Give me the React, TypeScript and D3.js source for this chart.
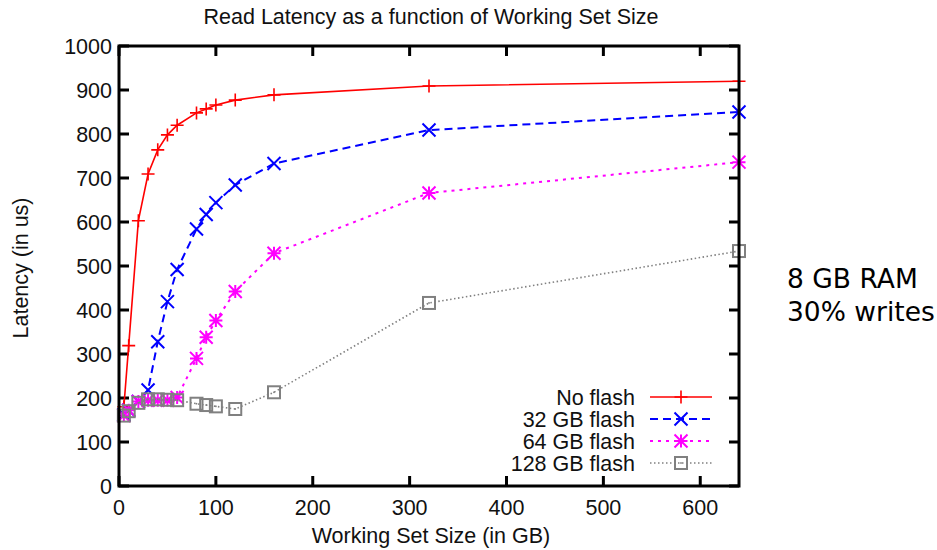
import React from "react";
import * as d3 from "d3";

const xValues = [5, 10, 20, 30, 40, 50, 60, 80, 90, 100, 120, 160, 320, 640];
const noFlash = [180, 319, 603, 709, 764, 798, 820, 848, 857, 866, 877, 889, 909, 920];
const flash32 = [162, 172, 192, 218, 328, 419, 492, 584, 617, 644, 684, 733, 809, 850];
const flash64 = [160, 172, 192, 195, 195, 195, 201, 290, 338, 376, 442, 529, 666, 736];
const flash128 = [160, 170, 189, 197, 197, 196, 195, 187, 184, 181, 175, 213, 416, 534];
const seriesNames = ["No flash", "32 GB flash", "64 GB flash", "128 GB flash"];
const xTicks = [0, 100, 200, 300, 400, 500, 600];
const yTicks = [0, 100, 200, 300, 400, 500, 600, 700, 800, 900, 1000];

const W = 937, H = 550;
const left = 119, right = 739, top = 46, bottom = 486;
const font = "'Liberation Sans', Arial, sans-serif";
const fs = 21.5;

const styles = [
  { color: "#ff0000", dash: "", width: 1.6, marker: "plus" },
  { color: "#0000ff", dash: "8,5", width: 2, marker: "cross" },
  { color: "#ff00ff", dash: "3,5", width: 2, marker: "star" },
  { color: "#808080", dash: "1.5,2.5", width: 1.6, marker: "square" },
];

function Marker({ type, x, y, color }: { type: string; x: number; y: number; color: string }) {
  const s = 6.5;
  if (type === "plus")
    return (
      <path d={`M${x - s},${y}H${x + s}M${x},${y - s}V${y + s}`} stroke={color} strokeWidth={1.6} fill="none" />
    );
  if (type === "cross")
    return (
      <path d={`M${x - s},${y - s}L${x + s},${y + s}M${x - s},${y + s}L${x + s},${y - s}`} stroke={color} strokeWidth={2} fill="none" />
    );
  if (type === "star")
    return (
      <path
        d={`M${x - s},${y}H${x + s}M${x},${y - s}V${y + s}M${x - s},${y - s}L${x + s},${y + s}M${x - s},${y + s}L${x + s},${y - s}`}
        stroke={color}
        strokeWidth={2}
        fill="none"
      />
    );
  return (
    <g>
      <rect x={x - 6} y={y - 6} width={12} height={12} stroke={color} strokeWidth={2} fill="none" />
      <rect x={x - 0.8} y={y - 0.8} width={1.6} height={1.6} fill={color} />
    </g>
  );
}

export default function App() {
  const x = d3.scaleLinear().domain([0, 640]).range([left, right]);
  const y = d3.scaleLinear().domain([0, 1000]).range([bottom, top]);
  const data = [noFlash, flash32, flash64, flash128];
  const line = d3
    .line<[number, number]>()
    .x((d) => x(d[0]))
    .y((d) => y(d[1]));

  const legendRows = [397, 419, 441, 463];

  return (
    <svg width={W} height={H} style={{ position: "absolute", left: 0, top: 0, background: "#fff" }}>
      <rect x={0} y={0} width={W} height={H} fill="#fff" />
      <text x={431} y={24} textAnchor="middle" fontFamily={font} fontSize={fs} fill="#111">
        Read Latency as a function of Working Set Size
      </text>
      {/* ticks */}
      {yTicks.map((t) => (
        <g key={"y" + t}>
          <line x1={left} x2={left + 10} y1={y(t)} y2={y(t)} stroke="#000" strokeWidth={3} />
          <line x1={right} x2={right - 10} y1={y(t)} y2={y(t)} stroke="#000" strokeWidth={3} />
          <text x={112} y={y(t) + 7.7} textAnchor="end" fontFamily={font} fontSize={fs} fill="#111">
            {t}
          </text>
        </g>
      ))}
      {xTicks.map((t) => (
        <g key={"x" + t}>
          <line x1={x(t)} x2={x(t)} y1={bottom} y2={bottom - 10} stroke="#000" strokeWidth={3} />
          <line x1={x(t)} x2={x(t)} y1={top} y2={top + 10} stroke="#000" strokeWidth={3} />
          <text x={x(t)} y={515} textAnchor="middle" fontFamily={font} fontSize={fs} fill="#111">
            {t}
          </text>
        </g>
      ))}
      {/* series */}
      {data.map((vals, i) => {
        const pts: [number, number][] = xValues.map((xv, j) => [xv, vals[j]]);
        const st = styles[i];
        return (
          <g key={"s" + i}>
            <path d={line(pts) || ""} fill="none" stroke={st.color} strokeWidth={st.width} strokeDasharray={st.dash} />
            {pts.map((p, j) => (
              <Marker key={j} type={st.marker} x={x(p[0])} y={y(p[1])} color={st.color} />
            ))}
          </g>
        );
      })}
      {/* legend */}
      {seriesNames.map((n, i) => {
        const st = styles[i];
        const ly = legendRows[i];
        return (
          <g key={"l" + i}>
            <text x={635} y={ly + 7.7} textAnchor="end" fontFamily={font} fontSize={fs} fill="#111">
              {n}
            </text>
            <line x1={650} x2={712} y1={ly} y2={ly} stroke={st.color} strokeWidth={st.width} strokeDasharray={st.dash} />
            <Marker type={st.marker} x={681} y={ly} color={st.color} />
          </g>
        );
      })}
      {/* frame */}
      <rect x={left} y={top} width={right - left} height={bottom - top} fill="none" stroke="#000" strokeWidth={3} />
      <text x={431} y={543} textAnchor="middle" fontFamily={font} fontSize={fs} fill="#111">
        Working Set Size (in GB)
      </text>
      <text
        transform={`translate(28,268) rotate(-90)`}
        textAnchor="middle"
        fontFamily={font}
        fontSize={fs}
        fill="#111"
      >
        Latency (in us)
      </text>
      <text x={787} y={288} fontFamily="'DejaVu Sans', sans-serif" fontSize={26.5} fill="#000">
        8 GB RAM
      </text>
      <text x={787} y={321} fontFamily="'DejaVu Sans', sans-serif" fontSize={26.5} fill="#000">
        30% writes
      </text>
    </svg>
  );
}
